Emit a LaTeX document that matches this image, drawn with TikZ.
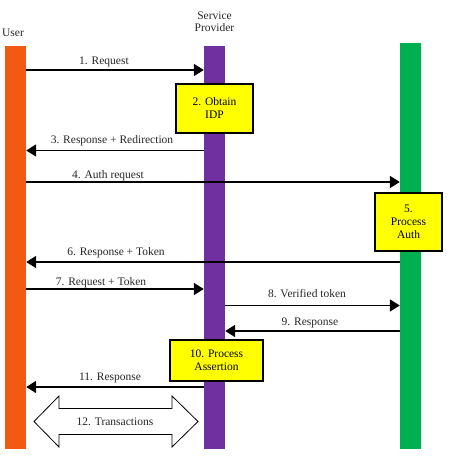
\documentclass[tikz,border=0pt]{standalone}
\usepackage{fontspec}
\setmainfont{Liberation Serif}
\usetikzlibrary{arrows.meta}
\definecolor{userc}{HTML}{F25A14}
\definecolor{spc}{HTML}{7030A0}
\definecolor{idpc}{HTML}{00B050}
\definecolor{boxc}{HTML}{FFFF00}
\begin{document}
\begin{tikzpicture}[x=1pt,y=-1pt,
  font=\rmfamily\fontsize{11.5}{13}\selectfont,
  bar/.style={inner sep=0pt, minimum width=21pt},
  stepbox/.style={draw=black, line width=1.4pt, fill=boxc, align=center, inner sep=0pt},
  msg/.style={line width=1.8pt, -{Triangle[length=10pt,width=12pt]}},
  lbl/.style={anchor=base, inner sep=0pt, text=black!85}]
\useasboundingbox (0,0) rectangle (451,461);
% lifelines
\node[bar, fill=userc, minimum height=403pt] (user) at (15.5,247.5) {};
\node[bar, fill=spc, minimum height=403pt] (sp) at (214.5,247.5) {};
\node[bar, fill=idpc, minimum height=406pt] (idp) at (410.5,246) {};
% titles
\node[lbl] (tuser) at (13,36) {User};
\node[inner sep=0pt, text=black!85, align=center] (tsp) at (214.5,21.5) {Service\\[-1pt]Provider};
% process boxes
\node[stepbox, minimum width=77pt, minimum height=49pt] (b2) at (214.5,108.5) {2. Obtain\\IDP};
\node[stepbox, minimum width=67pt, minimum height=58pt] (b5) at (408.5,222) {5.\\Process\\Auth};
\node[stepbox, minimum width=93pt, minimum height=41pt] (b10) at (216.5,360.5) {10. Process\\Assertion};
% messages
\draw[msg] (user.east |- 0,70) -- (sp.west |- 0,70);
\node[lbl] (l1) at (104,64) {1. Request};
\draw[msg] (sp.west |- 0,150.5) -- (user.east |- 0,150.5);
\node[lbl] (l3) at (112,143) {3. Response + Redirection};
\draw[msg] (user.east |- 0,182) -- (idp.west |- 0,182);
\node[lbl] (l4) at (108,178) {4. Auth request};
\draw[msg] (idp.west |- 0,262) -- (user.east |- 0,262);
\node[lbl] (l6) at (116,255) {6. Response + Token};
\draw[msg] (user.east |- 0,289) -- (sp.west |- 0,289);
\node[lbl] (l7) at (101,285) {7. Request + Token};
\draw[msg] (sp.east |- 0,305.5) -- (idp.west |- 0,305.5);
\node[lbl] (l8) at (307,297) {8. Verified token};
\draw[msg] (idp.west |- 0,331) -- (sp.east |- 0,331);
\node[lbl] (l9) at (310,325) {9. Response};
\draw[msg] (sp.west |- 0,387) -- (user.east |- 0,387);
\node[lbl] (l11) at (110,380) {11. Response};
% transactions double arrow
\draw[line width=0.8pt, fill=white] (34,421.5) -- (59,396) -- (59,408.5) -- (172,408.5) -- (172,396)
  -- (198,421.5) -- (172,447) -- (172,434.5) -- (59,434.5) -- (59,447) -- cycle;
\node[lbl] (l12) at (115,425.5) {12. Transactions};
\end{tikzpicture}
\end{document}
